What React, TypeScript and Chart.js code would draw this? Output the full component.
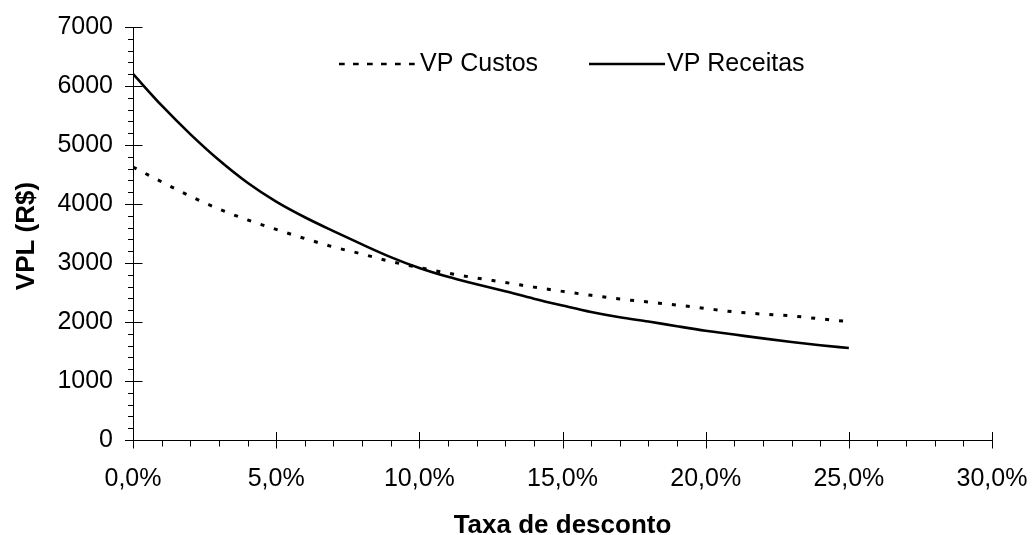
import React, { useEffect, useRef } from 'react';
import { Chart, registerables } from 'chart.js';

Chart.register(...registerables);

// ---- data ----
const rates = [0, 1, 2, 3, 4, 5, 6, 7, 8, 9, 10, 11, 12, 13, 14, 15, 16, 17, 18, 19, 20, 21, 22, 23, 24, 25];
const vpCustos = [4626, 4376, 4132, 3915, 3730, 3569, 3415, 3272, 3152, 3026, 2922, 2827, 2745, 2670, 2591, 2519, 2452, 2390, 2338, 2287, 2228, 2172, 2133, 2103, 2053, 2006];
const vpReceitas = [6205, 5670, 5185, 4745, 4360, 4040, 3775, 3540, 3315, 3100, 2915, 2765, 2640, 2520, 2395, 2280, 2170, 2080, 2008, 1928, 1852, 1787, 1722, 1662, 1607, 1558];
const seriesNames = ['VP Custos', 'VP Receitas'];
const xTickLabels = ['0,0%', '5,0%', '10,0%', '15,0%', '20,0%', '25,0%', '30,0%'];
const yTickLabels = ['0', '1000', '2000', '3000', '4000', '5000', '6000', '7000'];
const xTitle = 'Taxa de desconto';
const yTitle = 'VPL (R$)';

const FONT = "'Liberation Sans', Arial, Helvetica, sans-serif";

const customPlugin = {
  id: 'customAxesLegend',
  afterDatasetsDraw(chart: any) {
    const ctx = chart.ctx as CanvasRenderingContext2D;
    const xs = chart.scales.x;
    const ys = chart.scales.y;
    const x0 = Math.round(xs.getPixelForValue(0)) + 0.5;
    const y0 = Math.round(ys.getPixelForValue(0)) + 0.5;
    const x1 = xs.getPixelForValue(30);
    const yTop = ys.getPixelForValue(7000);
    ctx.save();
    ctx.strokeStyle = '#000';
    ctx.lineWidth = 1;
    ctx.setLineDash([]);
    ctx.beginPath();
    // axes
    ctx.moveTo(x0, Math.round(yTop));
    ctx.lineTo(x0, y0);
    ctx.moveTo(x0 - 0.5, y0);
    ctx.lineTo(Math.round(x1) + 0.5, y0);
    // y ticks
    for (let v = 0; v <= 7000; v += 200) {
      const p = Math.round(ys.getPixelForValue(v)) + 0.5;
      if (v % 1000 === 0) {
        ctx.moveTo(x0 - 8.5, p);
        ctx.lineTo(x0 + 9, p);
      } else {
        ctx.moveTo(x0 - 5.5, p);
        ctx.lineTo(x0, p);
      }
    }
    // x ticks
    for (let v = 0; v <= 30; v += 1) {
      const p = Math.round(xs.getPixelForValue(v)) + 0.5;
      if (v % 5 === 0) {
        ctx.moveTo(p, y0 - 8.5);
        ctx.lineTo(p, y0 + 8);
      } else {
        ctx.moveTo(p, y0);
        ctx.lineTo(p, y0 + 6);
      }
    }
    ctx.stroke();

    // axis titles
    ctx.fillStyle = '#000';
    ctx.font = `bold 26px ${FONT}`;
    ctx.textAlign = 'center';
    ctx.textBaseline = 'alphabetic';
    const ca = chart.chartArea;
    ctx.fillText(xTitle, (ca.left + ca.right) / 2, 533);
    ctx.save();
    ctx.translate(34, 236);
    ctx.rotate(-Math.PI / 2);
    ctx.fillText(yTitle, 0, 0);
    ctx.restore();

    // legend
    ctx.font = `25px ${FONT}`;
    ctx.textAlign = 'left';
    ctx.textBaseline = 'middle';
    ctx.lineWidth = 2.7;
    ctx.setLineDash([5.7, 8.3]);
    ctx.beginPath();
    ctx.moveTo(339, 64);
    ctx.lineTo(417, 64);
    ctx.stroke();
    ctx.setLineDash([]);
    ctx.fillText(seriesNames[0], 420, 64);
    ctx.beginPath();
    ctx.moveTo(589, 64);
    ctx.lineTo(665, 64);
    ctx.stroke();
    ctx.fillText(seriesNames[1], 667, 64);
    ctx.restore();
  },
};

export default function App() {
  const canvasRef = useRef<HTMLCanvasElement | null>(null);

  useEffect(() => {
    const canvas = canvasRef.current;
    if (!canvas) return;
    const chart = new Chart(canvas, {
      type: 'line',
      data: {
        datasets: [
          {
            label: seriesNames[0],
            data: rates.map((r, i) => ({ x: r, y: vpCustos[i] })),
            borderColor: '#000',
            borderWidth: 3,
            borderDash: [4, 10],
            pointRadius: 0,
            fill: false,
            cubicInterpolationMode: 'monotone',
          },
          {
            label: seriesNames[1],
            data: rates.map((r, i) => ({ x: r, y: vpReceitas[i] })),
            borderColor: '#000',
            borderWidth: 2.6,
            pointRadius: 0,
            fill: false,
            cubicInterpolationMode: 'monotone',
          },
        ],
      },
      options: {
        responsive: false,
        animation: false,
        layout: { padding: { top: 27, right: 41, left: 0, bottom: 0 } },
        plugins: { legend: { display: false }, tooltip: { enabled: false } },
        scales: {
          x: {
            type: 'linear',
            min: 0,
            max: 30,
            ticks: {
              stepSize: 5,
              autoSkip: false,
              maxRotation: 0,
              padding: 24,
              color: '#000',
              font: { family: FONT, size: 25 },
              callback: (v: any) => xTickLabels[Math.round(Number(v) / 5)] ?? '',
            },
            grid: { display: true, drawOnChartArea: false, drawTicks: false },
            border: { display: false },
            afterFit: (s: any) => {
              s.height = 95;
              s.paddingLeft = 0;
              s.paddingRight = 0;
            },
          },
          y: {
            type: 'linear',
            min: 0,
            max: 7000,
            ticks: {
              stepSize: 1000,
              padding: 20,
              color: '#000',
              font: { family: FONT, size: 25 },
              callback: (v: any) => yTickLabels[Math.round(Number(v) / 1000)] ?? '',
            },
            grid: { display: true, drawOnChartArea: false, drawTicks: false },
            border: { display: false },
            afterFit: (s: any) => {
              s.width = 133;
              s.paddingTop = 0;
              s.paddingBottom = 0;
            },
          },
        },
      },
      plugins: [customPlugin],
    } as any);
    return () => chart.destroy();
  }, []);

  return (
    <div style={{ position: 'absolute', left: 0, top: 0, width: 1033, height: 535, background: '#fff' }}>
      <canvas ref={canvasRef} width={1033} height={535} style={{ display: 'block' }} />
    </div>
  );
}
